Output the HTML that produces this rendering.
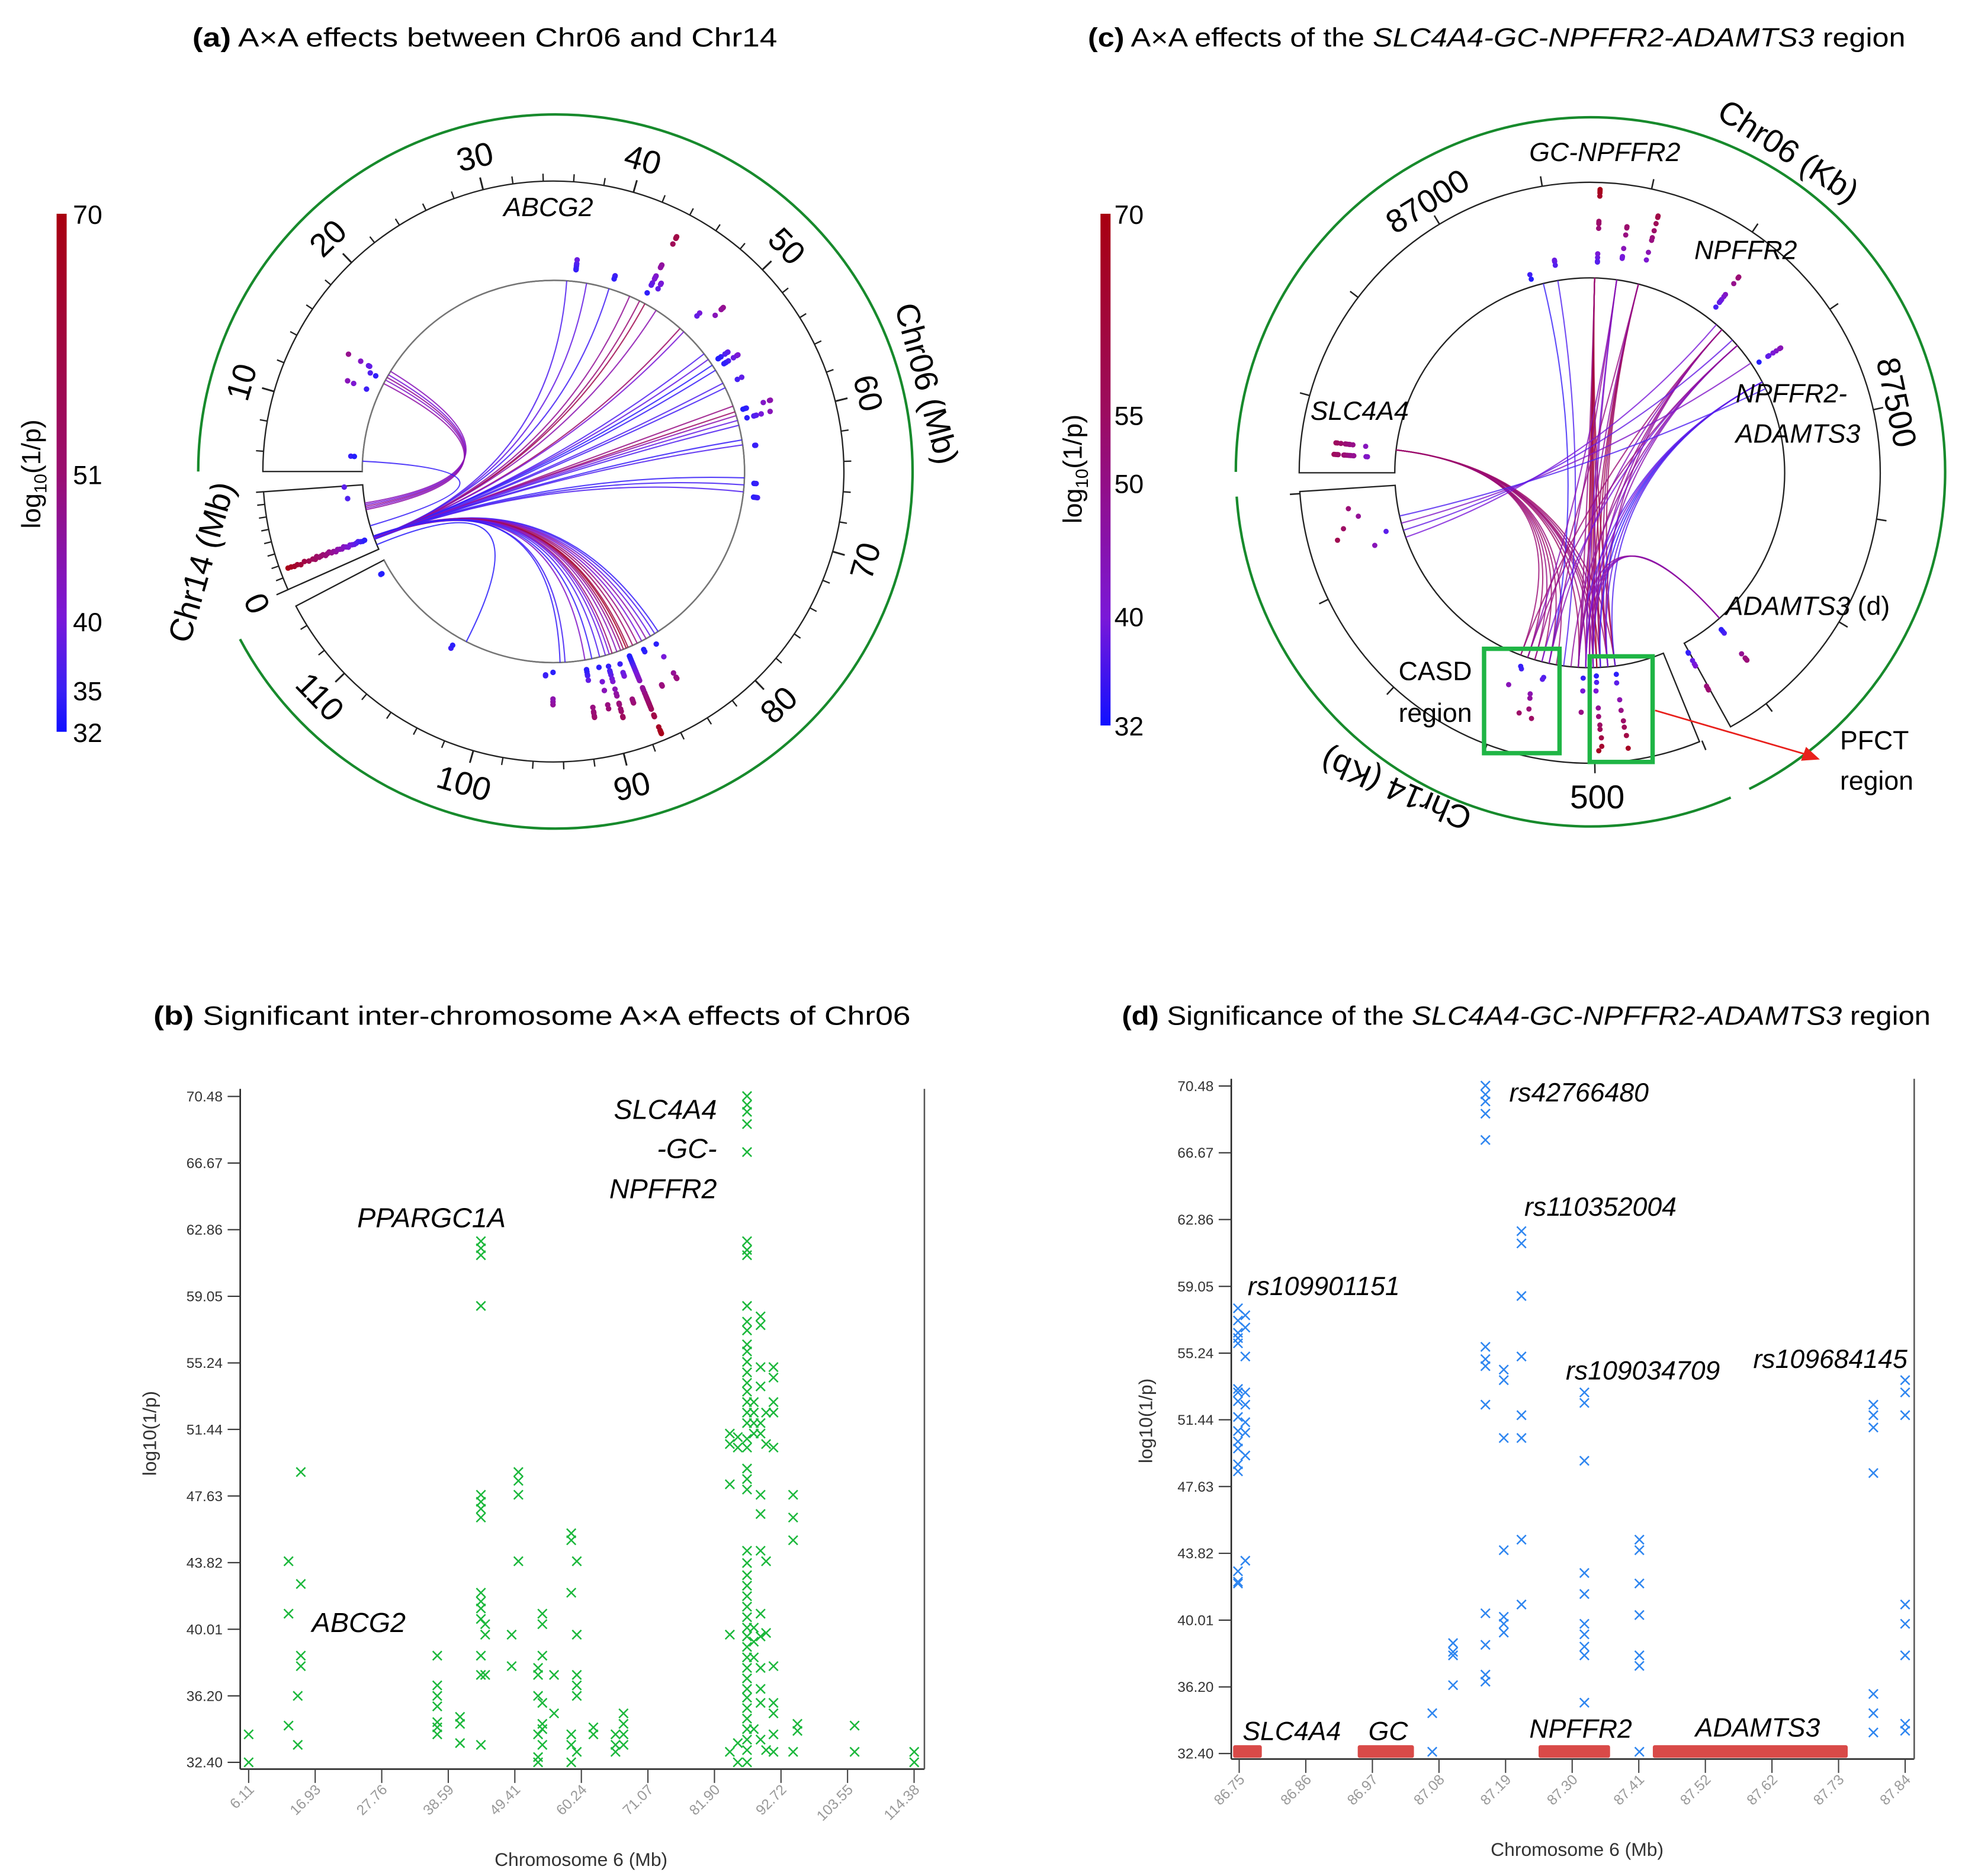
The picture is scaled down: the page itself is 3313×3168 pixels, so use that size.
<!DOCTYPE html>
<html><head><meta charset="utf-8">
<style>
html,body{margin:0;padding:0;background:#fff}
svg{display:block}
text{font-family:"Liberation Sans",sans-serif}
</style></head>
<body>
<svg id="fig" xmlns="http://www.w3.org/2000/svg" width="3313" height="3168" viewBox="0 0 1560 1492" preserveAspectRatio="none">
<defs>
<linearGradient id="cbA" x1="0" y1="0" x2="0" y2="1">
<stop offset="0" stop-color="#a80010"/><stop offset="0.5" stop-color="#9a0e70"/><stop offset="0.78" stop-color="#7a18d8"/><stop offset="0.92" stop-color="#3a20f4"/><stop offset="1" stop-color="#1010ff"/>
</linearGradient>
<linearGradient id="cbC" x1="0" y1="0" x2="0" y2="1">
<stop offset="0" stop-color="#a80010"/><stop offset="0.39" stop-color="#9c0c60"/><stop offset="0.53" stop-color="#920e88"/><stop offset="0.79" stop-color="#7a18d8"/><stop offset="1" stop-color="#1010ff"/>
</linearGradient>
</defs>
<rect x="0" y="0" width="1560" height="1492" fill="#fff"/>

<!-- titles -->
<text x="153" y="37" font-size="21" textLength="465" lengthAdjust="spacingAndGlyphs"><tspan font-weight="bold">(a)</tspan> A×A effects between Chr06 and Chr14</text>
<text x="865" y="37" font-size="21" textLength="650" lengthAdjust="spacingAndGlyphs"><tspan font-weight="bold">(c)</tspan> A×A effects of the <tspan font-style="italic">SLC4A4-GC-NPFFR2-ADAMTS3</tspan> region</text>
<text x="122" y="815" font-size="21" textLength="602" lengthAdjust="spacingAndGlyphs"><tspan font-weight="bold">(b)</tspan> Significant inter-chromosome A×A effects of Chr06</text>
<text x="892" y="815" font-size="21" textLength="643" lengthAdjust="spacingAndGlyphs"><tspan font-weight="bold">(d)</tspan> Significance of the <tspan font-style="italic">SLC4A4-GC-NPFFR2-ADAMTS3</tspan> region</text>

<!-- colorbar a -->
<g>
<rect x="45" y="170" width="8" height="412" fill="url(#cbA)"/>
<text x="58" y="178" font-size="21">70</text>
<text x="58" y="385" font-size="21">51</text>
<text x="58" y="502" font-size="21">40</text>
<text x="58" y="557" font-size="21">35</text>
<text x="58" y="590" font-size="21">32</text>
<text transform="translate(32,377) rotate(-90)" text-anchor="middle" font-size="21">log<tspan font-size="14" dy="5">10</tspan><tspan dy="-5">(1/p)</tspan></text>
</g>
<!-- colorbar c -->
<g>
<rect x="875" y="170" width="8" height="407" fill="url(#cbC)"/>
<text x="886" y="178" font-size="21">70</text>
<text x="886" y="338" font-size="21">55</text>
<text x="886" y="392" font-size="21">50</text>
<text x="886" y="498" font-size="21">40</text>
<text x="886" y="585" font-size="21">32</text>
<text transform="translate(860,373) rotate(-90)" text-anchor="middle" font-size="21">log<tspan font-size="14" dy="5">10</tspan><tspan dy="-5">(1/p)</tspan></text>
</g>

<g id="gA"></g>
<g id="gC"></g>
<g id="gB"></g>
<g id="gD"></g>

<!-- panel a labels -->
<text x="436" y="172" font-size="21" font-style="italic" text-anchor="middle">ABCG2</text>
<text transform="translate(737,305) rotate(75)" font-size="26" text-anchor="middle" dominant-baseline="central">Chr06 (Mb)</text>
<text transform="translate(160,447) rotate(-74)" font-size="26" text-anchor="middle" dominant-baseline="central">Chr14 (Mb)</text>

<!-- panel c labels -->
<text transform="translate(1422,120) rotate(33)" font-size="26" text-anchor="middle" dominant-baseline="central">Chr06 (Kb)</text>
<text transform="translate(1135,160) rotate(-32)" font-size="26" text-anchor="middle" dominant-baseline="central">87000</text>
<text transform="translate(1508,320) rotate(78)" font-size="26" text-anchor="middle" dominant-baseline="central">87500</text>
<text x="1270" y="634" font-size="26" text-anchor="middle" dominant-baseline="central">500</text>
<text transform="translate(1110,628) rotate(203)" font-size="26" text-anchor="middle" dominant-baseline="central">Chr14 (Kb)</text>
<text x="1276" y="128" font-size="21" font-style="italic" text-anchor="middle">GC-NPFFR2</text>
<text x="1388" y="206" font-size="21" font-style="italic" text-anchor="middle">NPFFR2</text>
<text x="1081" y="334" font-size="21" font-style="italic" text-anchor="middle">SLC4A4</text>
<text x="1380" y="320" font-size="21" font-style="italic">NPFFR2-</text>
<text x="1380" y="352" font-size="21" font-style="italic">ADAMTS3</text>
<text x="1372" y="489" font-size="21"><tspan font-style="italic">ADAMTS3</tspan> (d)</text>
<text x="1112" y="541" font-size="21">CASD</text>
<text x="1112" y="574" font-size="21">region</text>
<text x="1463" y="596" font-size="21">PFCT</text>
<text x="1463" y="628" font-size="21">region</text>
<rect x="1180" y="516" width="60" height="83" fill="none" stroke="#1fb545" stroke-width="3.5"/>
<rect x="1264" y="522" width="50" height="84" fill="none" stroke="#1fb545" stroke-width="3.5"/>
<line x1="1316" y1="565" x2="1436" y2="600" stroke="#e8201c" stroke-width="1.3"/>
<polygon points="1447,604 1432,605 1436,594" fill="#e8201c"/>

<!-- panel b labels -->
<text x="570" y="890" font-size="22" font-style="italic" text-anchor="end">SLC4A4</text>
<text x="570" y="921" font-size="22" font-style="italic" text-anchor="end">-GC-</text>
<text x="570" y="953" font-size="22" font-style="italic" text-anchor="end">NPFFR2</text>
<text x="284" y="976" font-size="22" font-style="italic">PPARGC1A</text>
<text x="248" y="1298" font-size="22" font-style="italic">ABCG2</text>
<text x="462" y="1484" font-size="15" fill="#333" text-anchor="middle">Chromosome 6 (Mb)</text>
<text transform="translate(124,1140) rotate(-90)" font-size="15" fill="#333" text-anchor="middle">log10(1/p)</text>

<!-- panel d labels -->
<text x="1200" y="876" font-size="21" font-style="italic">rs42766480</text>
<text x="1212" y="967" font-size="21" font-style="italic">rs110352004</text>
<text x="992" y="1030" font-size="21" font-style="italic">rs109901151</text>
<text x="1245" y="1097" font-size="21" font-style="italic">rs109034709</text>
<text x="1394" y="1088" font-size="21" font-style="italic">rs109684145</text>
<text x="988" y="1384" font-size="21" font-style="italic">SLC4A4</text>
<text x="1088" y="1384" font-size="21" font-style="italic">GC</text>
<text x="1216" y="1382" font-size="21" font-style="italic">NPFFR2</text>
<text x="1348" y="1381" font-size="21" font-style="italic">ADAMTS3</text>
<text x="1254" y="1476" font-size="15" fill="#333" text-anchor="middle">Chromosome 6 (Mb)</text>
<text transform="translate(916,1130) rotate(-90)" font-size="15" fill="#333" text-anchor="middle">log10(1/p)</text>
</svg>

<script>
// ---------- Panel (b) data ----------
const bPositions = [6.11,12.6,14.1,14.6,36.8,40.5,43.9,44.6,48.9,50.0,53.2,53.9,55.8,58.6,59.5,62.2,65.8,67.1,84.4,85.7,87.2,88.3,89.4,90.3,91.5,94.7,95.4,104.7,114.4];
const bValues = [
[34.0,32.4],[34.5,43.9,40.9],[36.2,33.4],[49.0,42.6,38.5,37.9],
[38.5,36.8,36.2,35.6,34.7,34.4,34.0],[35.0,34.6,33.5],
[62.2,61.8,61.4,58.5,47.7,47.3,46.9,46.4,42.1,41.6,41.2,40.6,38.5,37.4,33.4],
[40.3,39.7,37.4],[39.7,37.9],[49.0,48.5,47.7,43.9],
[37.8,37.4,36.2,34.0,32.7,32.4],[40.9,40.3,38.5,35.8,34.6,34.3,33.4],[37.4,35.2],
[45.5,45.1,42.1,34.0,33.4,32.4],[39.7,37.4,36.8,36.2,43.9,33.0],[34.4,34.0],[33.4,33.0,34.0],[35.2,34.6,34.0,33.4],
[51.2,50.6,48.3,39.7,33.0],[50.4,51.0,33.5,32.4],
[70.5,70.0,69.6,68.9,67.3,62.2,61.7,61.4,58.5,57.6,57.1,56.3,55.9,55.3,54.7,54.1,53.6,53.0,52.4,51.8,50.9,50.4,49.2,48.6,48.0,44.5,43.8,43.1,42.5,41.9,41.3,40.7,40.1,39.6,39.0,38.4,37.8,37.2,36.6,36.1,35.5,34.9,34.3,33.7,33.1,32.4],
[53.0,52.4,51.8,51.2,40.1,39.3,38.4,34.3],
[57.9,57.4,55.0,53.9,51.8,51.2,47.7,46.6,44.5,40.9,39.6,37.8,36.6,35.8,33.7],
[52.4,50.6,43.9,39.8,33.1],
[55.0,54.4,53.0,52.4,50.4,37.9,35.8,35.2,34.0,33.0],
[47.7,46.4,45.1,33.0],[34.6,34.2],[34.5,33.0],[33.0,32.4]
];
const bXTicks = ["6.11","16.93","27.76","38.59","49.41","60.24","71.07","81.90","92.72","103.55","114.38"];
const bYTicks = ["32.40","36.20","40.01","43.82","47.63","51.44","55.24","59.05","62.86","66.67","70.48"];

// ---------- Panel (d) data ----------
const dPositions = [86.748,86.760,87.066,87.100,87.153,87.183,87.212,87.315,87.405,87.788,87.840];
const dValues = [
[57.8,57.1,56.4,56.1,55.8,53.2,53.0,52.5,51.6,50.8,50.2,49.8,48.9,48.5,42.8,42.2,42.1],
[57.4,56.7,55.05,53.0,52.3,51.3,50.7,49.4,43.4],
[34.7,32.5],[38.7,38.2,38.0,36.3],
[70.5,70.0,69.6,68.9,67.4,55.6,54.9,54.5,52.3,40.4,38.6,36.9,36.5],
[54.3,53.7,50.4,44.0,40.2,39.8,39.3],
[62.2,61.5,58.5,55.05,51.7,50.4,44.6,40.9],
[53.0,52.4,49.1,42.7,41.5,39.8,39.2,38.5,38.0,35.3],
[44.6,44.0,42.1,40.3,38.0,37.4,32.5],
[52.3,51.7,51.0,48.4,35.8,34.7,33.6],
[53.7,53.0,51.7,40.9,39.8,38.0,34.1,33.7]
];
const dXTicks = ["86.75","86.86","86.97","87.08","87.19","87.30","87.41","87.52","87.62","87.73","87.84"];
const dYTicks = ["32.40","36.20","40.01","43.82","47.63","51.44","55.24","59.05","62.86","66.67","70.48"];
const geneNames = ["SLC4A4","GC","NPFFR2","ADAMTS3"];
const geneStarts = [86.740,86.944,87.240,87.427];
const geneEnds = [86.787,87.036,87.357,87.746];

// ---------- Panel (a) circos data ----------
const aChr14Pos = [0.8,0.8,0.75,0.8,0.7,0.85,0.75,0.8,0.7,0.9,0.75,0.8,0.85,0.7,0.8,0.9,0.75,0.8,0.7,0.85,0.8,0.75,0.9,0.8,0.7,0.85,0.8,0.75,0.8,0.9,0.8,0.75,0.8,7.1,5.8];
const aChr14Vals = [70,68.5,67,65.5,64,62,60,58,57,56,55,54,53,52,51,50,49,48,47,46,45,44,43,42,41,40,39,38,37,36,35,34,33,37,36];
const aArcTo06 = [36.0,38.0,40.3,42.5,43.6,44.2,45.5,48.5,49.0,52.0,52.7,53.4,54.0,55.5,56.0,58.0,58.6,59.0,59.5,60.0,61.5,62.0,65.3,66.0,66.7,83.6,84.0,84.5,85.0,85.5,86.0,86.5,87.0,87.2,87.5,87.8,88.2,88.7,89.0,89.4,90.0,90.8,91.5,93.5,94.0,103.7,14.2,14.5,14.8,15.2,13.8,5.7];
const aArcFrom14 = [1.4,1.4,1.5,1.4,1.3,1.4,1.5,1.4,1.4,1.3,1.4,1.5,1.4,1.4,1.3,1.4,1.4,1.5,1.4,1.3,1.4,1.4,1.5,1.4,1.4,1.6,1.6,1.5,1.6,1.7,1.6,1.6,1.5,1.6,1.7,1.6,1.6,1.5,1.6,1.7,1.6,1.6,1.5,1.6,1.7,0.6,5.2,5.4,5.6,5.8,5.0,3.0];
const aArcVals = [36,38,35,48,52,60,45,55,40,36,38,33,34,36,35,50,55,45,38,36,34,36,34,35,36,34,36,38,45,40,50,55,62,68,58,48,44,52,40,38,36,34,42,35,34,33,42,48,40,44,46,34];

// ---------- Panel (c) circos data ----------
const cChr14Pos = [593,595,601,574,573,571,563,564,580,566,513,513,514,496,496,497,495,495,494,494,493,493,496,470,471,470,470,469,469,468,468,833,845,860,850,870,880];
const cChr14Vals = [35,34,44,45,47,52,36,37,55,56,34,40,50,33,36,40,48,52,56,58,62,66,68,33,37,45,50,55,58,62,68,44,37,56,60,48,52];
const cArc06 = [86760,86760,86760,86760,86760,86760,86760,86760,86760,86760,86760,86760,86760,87080,87100,87150,87150,87150,87150,87150,87150,87150,87150,87180,87180,87180,87180,87210,87210,87210,87210,87210,87210,87340,87340,87340,87340,87340,87370,87370,87370,87370,87370,87430,87430,87430,87430,87430,87430,87780,87780,87780,87780,87330,87360,87400,87440];
const cArc14 = [600,590,580,570,560,550,520,510,500,495,490,480,470,560,540,470,480,490,495,500,505,510,520,500,510,560,590,470,480,490,500,520,580,480,500,520,560,600,490,510,530,570,590,470,480,490,500,510,520,500,505,510,520,830,840,850,860];
const cArcVals = [52,54,50,55,53,51,56,52,50,54,53,51,55,34,36,62,66,58,70,60,55,64,50,45,40,48,44,58,52,60,55,47,50,48,46,50,44,52,45,42,47,40,49,36,38,34,35,40,37,44,46,42,48,40,38,42,36];

// ---------- helpers ----------
const NS = 'http://www.w3.org/2000/svg';
function mk(tag, attrs, parent) {
  const e = document.createElementNS(NS, tag);
  for (const k in attrs) e.setAttribute(k, attrs[k]);
  parent.appendChild(e);
  return e;
}
const colorStops = [[32,[30,30,255]],[36,[80,32,240]],[40,[122,24,216]],[46,[143,18,168]],[51,[154,14,124]],[60,[160,10,80]],[70,[168,0,24]]];
function colorFor(v) {
  if (v <= colorStops[0][0]) return 'rgb(' + colorStops[0][1].join(',') + ')';
  for (let i = 1; i < colorStops.length; i++) {
    if (v <= colorStops[i][0]) {
      const t = (v - colorStops[i-1][0]) / (colorStops[i][0] - colorStops[i-1][0]);
      const c = colorStops[i-1][1].map((a, j) => Math.round(a + (colorStops[i][1][j] - a) * t));
      return 'rgb(' + c.join(',') + ')';
    }
  }
  return 'rgb(' + colorStops[colorStops.length-1][1].join(',') + ')';
}
function pt(cx, cy, r, deg) {
  const a = deg * Math.PI / 180;
  return [cx + r * Math.cos(a), cy - r * Math.sin(a)];
}
function P(p) { return p[0].toFixed(2) + ',' + p[1].toFixed(2); }
function arcD(cx, cy, r, a1, a2) {
  const p1 = pt(cx, cy, r, a1), p2 = pt(cx, cy, r, a2);
  const large = (a1 - a2) > 180 ? 1 : 0;
  return 'M' + P(p1) + ' A' + r + ' ' + r + ' 0 ' + large + ' 1 ' + P(p2);
}
function sectorD(cx, cy, R, r, a1, a2) {
  const large = (a1 - a2) > 180 ? 1 : 0;
  return 'M' + P(pt(cx,cy,R,a1)) + ' A' + R + ' ' + R + ' 0 ' + large + ' 1 ' + P(pt(cx,cy,R,a2)) +
    ' L' + P(pt(cx,cy,r,a2)) + ' A' + r + ' ' + r + ' 0 ' + large + ' 0 ' + P(pt(cx,cy,r,a1)) + ' Z';
}
function rotFor(theta) {
  let t = theta; while (t > 180) t -= 360; while (t <= -180) t += 360;
  return t > 0 ? 90 - t : -90 - t;
}

// ================= Panel (a) =================
(function(){
  const g = document.getElementById('gA');
  const cx = 440, cy = 375, R = 231, r = 152;
  const ang06 = mb => 194 - 3 * mb;
  const ang14 = mb => 204 - 2.5 * mb;
  const rad = v => 158 + (v - 32) * 1.75;

  const green = mk('path', {d: arcD(441.6, 375, 284, 180, -152), fill: 'none', stroke: '#178a2c', 'stroke-width': 2}, g);
  
  

  const s06 = mk('path', {d: sectorD(cx, cy, R, r, 180, -152.4), fill: 'none', stroke: '#222', 'stroke-width': 1.1}, g);
  
  
  const s14 = mk('path', {d: sectorD(cx, cy, R, r, 204, 184), fill: 'none', stroke: '#222', 'stroke-width': 1.1}, g);
  
  
  const inner = mk('path', {d: arcD(cx, cy, r, 180, -152.4), fill: 'none', stroke: '#777', 'stroke-width': 1}, g);
  
  

  for (let mb = 6; mb <= 114; mb += 2) {
    const major = mb % 10 === 0;
    const th = ang06(mb);
    const tk = mk('line', {}, g);
    const p1 = pt(cx, cy, R, th), p2 = pt(cx, cy, R + (major ? 10 : 6), th);
    tk.setAttribute('x1', p1[0]); tk.setAttribute('y1', p1[1]); tk.setAttribute('x2', p2[0]); tk.setAttribute('y2', p2[1]);
    tk.setAttribute('stroke', '#222'); tk.setAttribute('stroke-width', major ? 1.4 : 1.1);
    
    
    if (major) {
      const lp = pt(cx, cy, R + 27, th);
      const lb = mk('text', {transform: 'translate(' + P(lp) + ') rotate(' + rotFor(th).toFixed(1) + ')', 'font-size': 26, 'text-anchor': 'middle', 'dominant-baseline': 'central'}, g);
      lb.textContent = String(mb);
      
      
    }
  }
  for (let mb = 0; mb <= 8; mb += 1) {
    const th = ang14(mb);
    const tk = mk('line', {}, g);
    const p1 = pt(cx, cy, R, th), p2 = pt(cx, cy, R + (mb === 0 ? 10 : 6), th);
    tk.setAttribute('x1', p1[0]); tk.setAttribute('y1', p1[1]); tk.setAttribute('x2', p2[0]); tk.setAttribute('y2', p2[1]);
    tk.setAttribute('stroke', '#222'); tk.setAttribute('stroke-width', 1.1);
    
    
  }
  const l0p = pt(cx, cy, R + 27, ang14(0));
  const l0 = mk('text', {transform: 'translate(' + P(l0p) + ') rotate(' + rotFor(ang14(0)).toFixed(1) + ')', 'font-size': 26, 'text-anchor': 'middle', 'dominant-baseline': 'central'}, g);
  l0.textContent = '0';
  
  

  // links
  for (let i = 0; i < aArcTo06.length; i++) {
    const p1 = pt(cx, cy, r, ang14(aArcFrom14[i]));
    const p2 = pt(cx, cy, r, ang06(aArcTo06[i]));
    const ln = mk('path', {d: 'M' + P(p1) + ' Q' + cx + ',' + cy + ' ' + P(p2), fill: 'none', stroke: colorFor(aArcVals[i]), 'stroke-width': 1, 'stroke-opacity': 0.85}, g);
    
    
  }
  // chr06 dots
  for (let i = 0; i < bPositions.length; i++) {
    for (const v of bValues[i]) {
      const p = pt(cx, cy, rad(v), ang06(bPositions[i]));
      const d = mk('circle', {cx: p[0].toFixed(2), cy: p[1].toFixed(2), r: 2.2, fill: colorFor(v)}, g);
      
      
    }
  }
  for (let i = 0; i < aChr14Pos.length; i++) {
    const p = pt(cx, cy, rad(aChr14Vals[i]), ang14(aChr14Pos[i]) - 2);
    const d = mk('circle', {cx: p[0].toFixed(2), cy: p[1].toFixed(2), r: 2.2, fill: colorFor(aChr14Vals[i])}, g);
    
    
  }
})();

// ================= Panel (c) =================
(function(){
  const g = document.getElementById('gC');
  const cx = 1264, cy = 376, R = 231, r = 155;
  const ang06 = kb => 180 - (kb - 86729) * 0.2172;
  const ang14 = kb => -89 - (kb - 500) * 0.2172;
  const rad = v => 160 + (v - 32) * 1.7;

  const g1 = mk('path', {d: arcD(1264.6, 375.3, 282, 180, -63.4), fill: 'none', stroke: '#178a2c', 'stroke-width': 2}, g);
  
  
  const g2 = mk('path', {d: arcD(1264.6, 375.3, 282, -66.7, -176), fill: 'none', stroke: '#178a2c', 'stroke-width': 2}, g);
  
  

  const s06 = mk('path', {d: sectorD(cx, cy, R, r, 180, -61), fill: 'none', stroke: '#222', 'stroke-width': 1.1}, g);
  
  
  const s14 = mk('path', {d: sectorD(cx, cy, R, r, -67.8, -176.3), fill: 'none', stroke: '#222', 'stroke-width': 1.1}, g);
  
  

  for (let kb = 86800; kb <= 87800; kb += 100) {
    const th = ang06(kb);
    const p1 = pt(cx, cy, R, th), p2 = pt(cx, cy, R + 8, th);
    const tk = mk('line', {x1: p1[0], y1: p1[1], x2: p2[0], y2: p2[1], stroke: '#222', 'stroke-width': 1.2}, g);
    
    
  }
  for (let kb = 400; kb <= 900; kb += 100) {
    const th = ang14(kb);
    const p1 = pt(cx, cy, R, th), p2 = pt(cx, cy, R + 8, th);
    const tk = mk('line', {x1: p1[0], y1: p1[1], x2: p2[0], y2: p2[1], stroke: '#222', 'stroke-width': 1.2}, g);
    
    
  }

  for (let i = 0; i < cArc06.length; i++) {
    const p1 = pt(cx, cy, r, ang06(cArc06[i]));
    const p2 = pt(cx, cy, r, ang14(cArc14[i]));
    const ln = mk('path', {d: 'M' + P(p1) + ' Q' + cx + ',' + cy + ' ' + P(p2), fill: 'none', stroke: colorFor(cArcVals[i]), 'stroke-width': 1, 'stroke-opacity': 0.8}, g);
    
    
  }
  for (let i = 0; i < dPositions.length; i++) {
    for (const v of dValues[i]) {
      const p = pt(cx, cy, rad(v), ang06(dPositions[i] * 1000));
      const d = mk('circle', {cx: p[0].toFixed(2), cy: p[1].toFixed(2), r: 2.1, fill: colorFor(v)}, g);
      
      
    }
  }
  for (let i = 0; i < cChr14Pos.length; i++) {
    const p = pt(cx, cy, rad(cChr14Vals[i]), ang14(cChr14Pos[i]));
    const d = mk('circle', {cx: p[0].toFixed(2), cy: p[1].toFixed(2), r: 2.1, fill: colorFor(cChr14Vals[i])}, g);
    
    
  }
})();

// ================= Scatter helper =================
function scatter(g, cfg) {
  const {xl, xr, yt, yb, x0px, x1px, xmin, xmax, y0px, y1px, ymin, ymax, xt, yt2, pos, vals, color, prefix} = cfg;
  const sx = v => x0px + (v - xmin) * (x1px - x0px) / (xmax - xmin);
  const sy = v => y0px - (v - ymin) * (y0px - y1px) / (ymax - ymin);
  const ya = mk('line', {x1: xl, y1: yt, x2: xl, y2: yb, stroke: '#222', 'stroke-width': 1.2}, g);
  
  
  const xa = mk('line', {x1: xl, y1: yb, x2: xr, y2: yb, stroke: '#333', 'stroke-width': 1.3}, g);
  
  
  const rb = mk('line', {x1: xr, y1: yt, x2: xr, y2: yb, stroke: '#555', 'stroke-width': 1.2}, g);
  
  
  for (let i = 0; i < yt2.length; i++) {
    const y = sy(parseFloat(yt2[i]));
    const tk = mk('line', {x1: xl - 10, y1: y, x2: xl, y2: y, stroke: '#333', 'stroke-width': 1}, g);
    
    
    const lb = mk('text', {x: xl - 14, y: y + 4, 'font-size': 11.5, fill: '#333', 'text-anchor': 'end'}, g);
    lb.textContent = yt2[i];
    
    
  }
  for (let i = 0; i < xt.length; i++) {
    const x = x0px + i * (x1px - x0px) / (xt.length - 1);
    const tk = mk('line', {x1: x, y1: yb, x2: x, y2: yb + 11, stroke: '#444', 'stroke-width': 1}, g);
    
    
    const lb = mk('text', {transform: 'translate(' + (x + 5) + ',' + (yb + 17) + ') rotate(-45)', 'font-size': 11.5, fill: '#999', 'text-anchor': 'end'}, g);
    lb.textContent = xt[i];
    
    
  }
  const s = 3.6;
  for (let i = 0; i < pos.length; i++) {
    const x = sx(pos[i]);
    for (const v of vals[i]) {
      const y = sy(v);
      const m = mk('path', {d: 'M' + (x-s) + ',' + (y-s) + 'L' + (x+s) + ',' + (y+s) + 'M' + (x-s) + ',' + (y+s) + 'L' + (x+s) + ',' + (y-s), stroke: color, 'stroke-width': 1.2, fill: 'none'}, g);
      
      
    }
  }
  return sx;
}

// ================= Panel (b) =================
scatter(document.getElementById('gB'), {
  xl: 191, xr: 735, yt: 866, yb: 1407,
  x0px: 197.7, x1px: 726.8, xmin: 6.11, xmax: 114.38,
  y0px: 1401.6, y1px: 872, ymin: 32.40, ymax: 70.48,
  xt: bXTicks, yt2: bYTicks, pos: bPositions, vals: bValues, color: '#1cb83c', prefix: 'b'
});

// ================= Panel (d) =================
(function(){
  const g = document.getElementById('gD');
  const sx = scatter(g, {
    xl: 979, xr: 1522, yt: 858, yb: 1399,
    x0px: 985.3, x1px: 1514.8, xmin: 86.75, xmax: 87.84,
    y0px: 1394.6, y1px: 863.7, ymin: 32.40, ymax: 70.48,
    xt: dXTicks, yt2: dYTicks, pos: dPositions, vals: dValues, color: '#2f86f0', prefix: 'd'
  });
  for (let i = 0; i < geneNames.length; i++) {
    const x1 = sx(geneStarts[i]), x2 = sx(geneEnds[i]);
    const rc = mk('rect', {x: x1.toFixed(2), y: 1388, width: (x2 - x1).toFixed(2), height: 10, rx: 1.5, fill: '#d94a48'}, g);
    
    
  }
})();
</script>
</body></html>
